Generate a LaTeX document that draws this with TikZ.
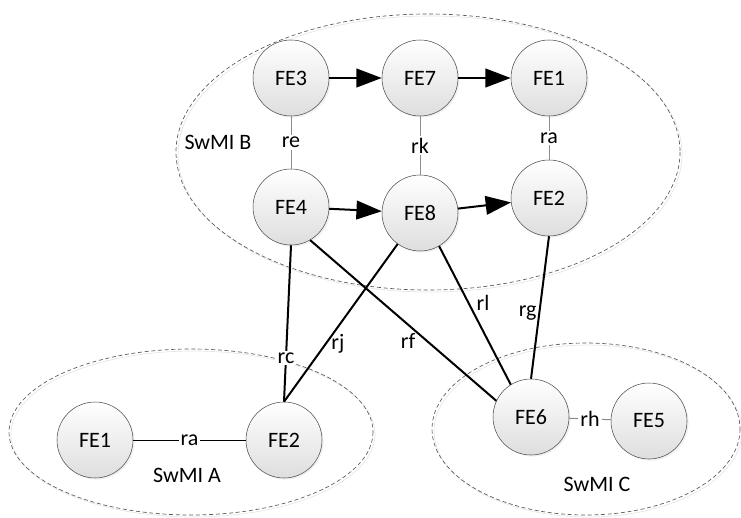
\documentclass[tikz,border=0pt]{standalone}
\usepackage{fontspec}
\setmainfont{Carlito}
\usetikzlibrary{arrows.meta,shadows}

\tikzstyle{fe} = [circle, draw=black!70, thin, minimum size=57pt, inner sep=0pt, top color=white, bottom color=black!13, drop shadow={opacity=0.12, shadow xshift=1.2pt, shadow yshift=-1.2pt}]
\tikzstyle{swmi} = [dash pattern=on 3pt off 2pt, draw=black!65, line width=0.5pt]
\tikzstyle{swmishadow} = [draw=black!10, line width=0.5pt]
\tikzstyle{flow} = [-{Triangle[length=19pt,width=14pt]}, line width=1.5pt]
\tikzstyle{link} = [line width=1.5pt]
\tikzstyle{refline} = [draw=black!45, line width=0.75pt]
\tikzstyle{lbl} = [fill=white, inner sep=1.5pt]

\begin{document}
\begin{tikzpicture}[x=0.75pt, y=-0.75pt, font=\fontsize{16.5}{19}\selectfont]
		\useasboundingbox (0,0) rectangle (741,517);
		% Dominios
		\draw[swmishadow] (430,154) ellipse [x radius=252, y radius=138];
		\draw[swmi] (428,152) ellipse [x radius=252, y radius=138];
		\draw[swmishadow] (193,434) ellipse [x radius=182, y radius=83];
		\draw[swmi] (191,432) ellipse [x radius=182, y radius=83];
		\draw[swmishadow] (588,431) ellipse [x radius=154, y radius=86];
		\draw[swmi] (586,429) ellipse [x radius=154, y radius=86];
		\node (swmib) at (218,142) {SwMI B};
		\node (swmia) at (187,475) {SwMI A};
		\node (swmic) at (597,484) {SwMI C};
		% Nodos
		\node[fe] (fe3) at (291,78) {FE3};
		\node[fe] (fe7) at (420,78) {FE7};
		\node[fe] (fe1b) at (549,78) {FE1};
		\node[fe] (fe4) at (291,207) {FE4};
		\node[fe] (fe8) at (420,213) {FE8};
		\node[fe] (fe2b) at (549,198) {FE2};
		\node[fe] (fe1a) at (95,440) {FE1};
		\node[fe] (fe2a) at (284,440) {FE2};
		\node[fe] (fe6) at (531,417) {FE6};
		\node[fe] (fe5) at (649,421) {FE5};
		% Flechas
		\draw[flow] (fe3) -- (fe7);
		\draw[flow] (fe7) -- (fe1b);
		\draw[flow] (fe4) -- (fe8);
		\draw[flow] (fe8) -- (fe2b);
		% Puntos de referencia
		\draw[refline] (fe3) -- node[lbl] {re} (fe4);
		\draw[refline] (fe7) -- node[lbl] {rk} (fe8);
		\draw[refline] (fe1b) -- node[lbl] {ra} (fe2b);
		\draw[refline] (fe6) -- node[lbl] {rh} (fe5);
		\draw[line width=0.75pt] (fe1a) -- node[lbl] {ra} (fe2a);
		\draw[link] (fe4.south) -- node[lbl, pos=0.72] {rc} (fe2a.north);
		\draw[link] (fe8) -- node[pos=0.63, right=0pt] {rj} (fe2a.north);
		\draw[link] (fe4.300) -- node[pos=0.63, left=5pt] {rf} (fe6.155);
		\draw[link] (fe8.300) -- node[pos=0.41, right=2pt] {rl} (fe6.122);
		\draw[link] (fe2b.south) -- node[pos=0.54, left=-2pt] {rg} (fe6.north);
	\end{tikzpicture}
\end{document}
